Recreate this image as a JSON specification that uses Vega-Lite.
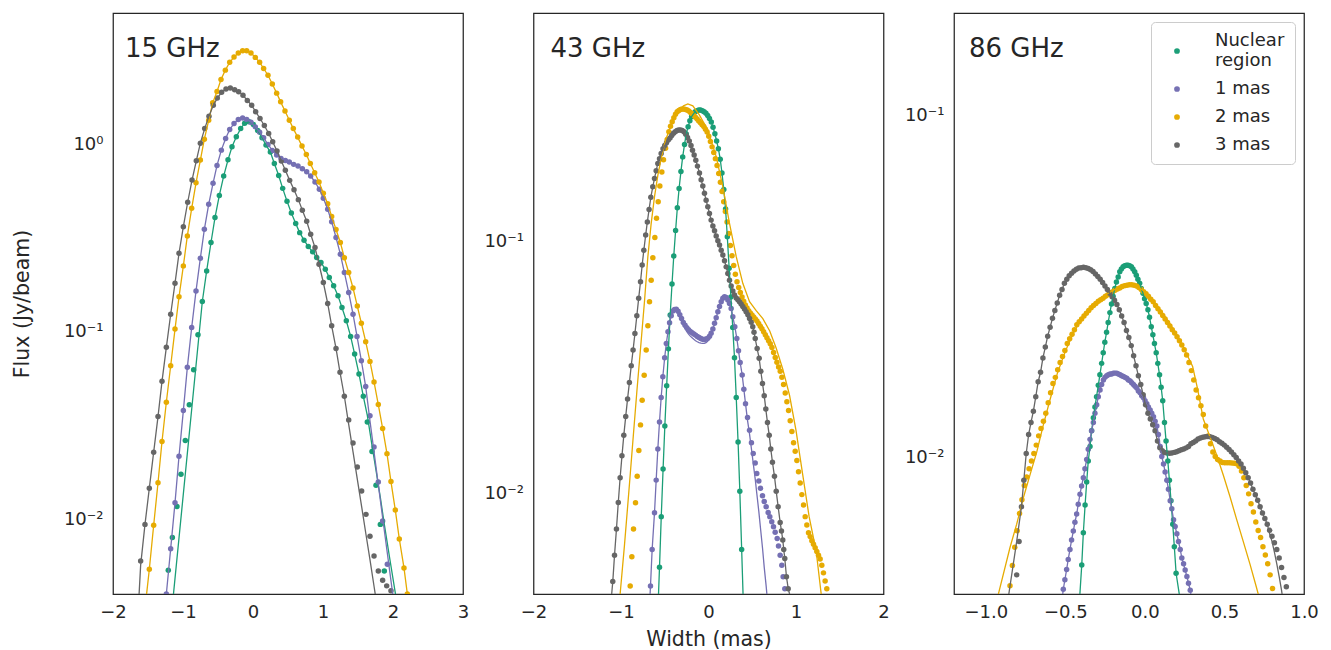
{
"$schema":"https://vega.github.io/schema/vega-lite/v6.json",
"background":"white",
"padding":{"left":11,"top":12,"right":5,"bottom":5},
"config":{"font":"DejaVu Sans","view":{"stroke":"#262626","strokeWidth":1.25},
"axis":{"grid":false,"ticks":false,"domain":false,"labelFontSize":18,"labelColor":"#262626","titleFontSize":20.5,"titleFontWeight":"normal","titleColor":"#262626","labelFlush":false},
"axisX":{"labelPadding":9,"titlePadding":8},
"axisY":{"labelPadding":10,"titlePadding":31}},
"spacing":70.5,
"bounds":"flush",
"resolve":{"scale":{"color":"shared","x":"independent","y":"independent"},"legend":{"color":"independent"}},
"datasets":{
"a":[
{"s":"N","x":-1.21,"y":0.00536},{"s":"N","x":-1.152,"y":0.008},{"s":"N","x":-1.142,"f":0.0038},{"s":"N","x":-1.086,"y":0.0117},{"s":"N","x":-1.029,"y":0.0174},{"s":"N","x":-0.967,"y":0.0263},{"s":"N","x":-0.91,"y":0.0408},{"s":"N","x":-0.848,"y":0.0628},{"s":"N","x":-0.786,"y":0.0964},
{"s":"N","x":-0.724,"y":0.145,"f":0.145},{"s":"N","x":-0.662,"y":0.211,"f":0.211},{"s":"N","x":-0.6,"y":0.299,"f":0.299},{"s":"N","x":-0.543,"y":0.406,"f":0.406},{"s":"N","x":-0.481,"y":0.533,"f":0.533},{"s":"N","x":-0.419,"y":0.676,"f":0.676},{"s":"N","x":-0.357,"y":0.825,"f":0.825},{"s":"N","x":-0.3,"y":0.968,"f":0.968},{"s":"N","x":-0.238,"y":1.094,"f":1.094},{"s":"N","x":-0.176,"y":1.21,"f":1.21},{"s":"N","x":-0.119,"y":1.293,"f":1.293},{"s":"N","x":-0.057,"y":1.315,"f":1.315},{"s":"N","x":0.005,"y":1.272,"f":1.272},{"s":"N","x":0.067,"y":1.182,"f":1.182},{"s":"N","x":0.129,"y":1.081,"f":1.081},{"s":"N","x":0.186,"y":0.988,"f":0.988},{"s":"N","x":0.248,"y":0.907,"f":0.907},{"s":"N","x":0.305,"y":0.789,"f":0.789},{"s":"N","x":0.367,"y":0.681,"f":0.681},{"s":"N","x":0.424,"y":0.581,"f":0.581},{"s":"N","x":0.486,"y":0.496,"f":0.496},{"s":"N","x":0.548,"y":0.43,"f":0.43},{"s":"N","x":0.61,"y":0.377,"f":0.377},{"s":"N","x":0.667,"y":0.3375,"f":0.3375},{"s":"N","x":0.729,"y":0.3076,"f":0.3076},{"s":"N","x":0.79,"y":0.2843,"f":0.2843},{"s":"N","x":0.852,"y":0.2665,"f":0.2665},{"s":"N","x":0.91,"y":0.2486,"f":0.2486},{"s":"N","x":0.971,"y":0.2338,"f":0.2338},{"s":"N","x":1.033,"y":0.2156,"f":0.2156},{"s":"N","x":1.09,"y":0.1945,"f":0.1945},{"s":"N","x":1.152,"y":0.1758,"f":0.1758},{"s":"N","x":1.214,"y":0.1554,"f":0.1554},{"s":"N","x":1.271,"y":0.1347,"f":0.1347},{"s":"N","x":1.333,"y":0.1145,"f":0.1145},{"s":"N","x":1.395,"y":0.0944,"f":0.0944},{"s":"N","x":1.452,"y":0.076,"f":0.076},{"s":"N","x":1.514,"y":0.0596,"f":0.0596},{"s":"N","x":1.576,"y":0.0453,"f":0.0453},{"s":"N","x":1.633,"y":0.033,"f":0.0358},{"s":"N","x":1.7,"y":0.023,"f":0.0248},{"s":"N","x":1.757,"y":0.0152,"f":0.0183},{"s":"N","x":1.819,"y":0.0094,"f":0.0131},{"s":"N","x":1.876,"y":0.0053,"f":0.0094},{"s":"N","x":1.95,"f":0.0063},{"s":"N","x":2.04,"f":0.0039},
{"s":"1","x":-1.26,"f":0.0035},{"s":"1","x":-1.238,"y":0.004,"f":0.004},{"s":"1","x":-1.176,"y":0.00698,"f":0.00698},{"s":"1","x":-1.114,"y":0.01227,"f":0.01227},{"s":"1","x":-1.057,"y":0.0217,"f":0.0217},{"s":"1","x":-0.995,"y":0.038,"f":0.038},{"s":"1","x":-0.938,"y":0.0646,"f":0.0646},{"s":"1","x":-0.876,"y":0.1054,"f":0.1054},{"s":"1","x":-0.814,"y":0.165,"f":0.165},{"s":"1","x":-0.752,"y":0.2466,"f":0.2466},{"s":"1","x":-0.695,"y":0.3515,"f":0.3515},{"s":"1","x":-0.633,"y":0.4776,"f":0.4776},{"s":"1","x":-0.571,"y":0.618,"f":0.618},{"s":"1","x":-0.514,"y":0.77,"f":0.77},{"s":"1","x":-0.452,"y":0.929,"f":0.929},{"s":"1","x":-0.391,"y":1.072,"f":1.072},{"s":"1","x":-0.333,"y":1.197,"f":1.197},{"s":"1","x":-0.271,"y":1.288,"f":1.288},{"s":"1","x":-0.21,"y":1.353,"f":1.353},{"s":"1","x":-0.148,"y":1.38,"f":1.38},{"s":"1","x":-0.09,"y":1.353,"f":1.353},{"s":"1","x":-0.029,"y":1.309,"f":1.309},{"s":"1","x":0.033,"y":1.236,"f":1.236},{"s":"1","x":0.095,"y":1.158,"f":1.158},{"s":"1","x":0.152,"y":1.081,"f":1.081},{"s":"1","x":0.214,"y":0.996,"f":0.996},{"s":"1","x":0.276,"y":0.926,"f":0.926},{"s":"1","x":0.338,"y":0.874,"f":0.874},{"s":"1","x":0.4,"y":0.839,"f":0.839},{"s":"1","x":0.462,"y":0.819,"f":0.819},{"s":"1","x":0.519,"y":0.802,"f":0.802},{"s":"1","x":0.581,"y":0.78,"f":0.78},{"s":"1","x":0.643,"y":0.764,"f":0.764},{"s":"1","x":0.705,"y":0.739,"f":0.739},{"s":"1","x":0.767,"y":0.713,"f":0.713},{"s":"1","x":0.824,"y":0.676,"f":0.676},{"s":"1","x":0.886,"y":0.628,"f":0.628},{"s":"1","x":0.948,"y":0.574,"f":0.574},{"s":"1","x":1.005,"y":0.514,"f":0.514},{"s":"1","x":1.067,"y":0.45,"f":0.45},{"s":"1","x":1.124,"y":0.386,"f":0.386},{"s":"1","x":1.186,"y":0.318,"f":0.318},{"s":"1","x":1.248,"y":0.259,"f":0.259},{"s":"1","x":1.305,"y":0.207,"f":0.207},{"s":"1","x":1.367,"y":0.162,"f":0.162},{"s":"1","x":1.429,"y":0.124,"f":0.124},{"s":"1","x":1.486,"y":0.0944,"f":0.0944},{"s":"1","x":1.548,"y":0.0701,"f":0.0701},{"s":"1","x":1.61,"y":0.051,"f":0.051},{"s":"1","x":1.671,"y":0.0357,"f":0.0335},{"s":"1","x":1.729,"y":0.0243,"f":0.0229},{"s":"1","x":1.79,"y":0.0158,"f":0.0153},{"s":"1","x":1.852,"y":0.0098,"f":0.0102},{"s":"1","x":1.919,"y":0.00577,"f":0.0066},{"s":"1","x":2.0,"f":0.0039},
{"s":"2","x":-1.53,"f":0.0037},{"s":"2","x":-1.481,"y":0.00542,"f":0.00542},{"s":"2","x":-1.419,"y":0.0093,"f":0.0093},{"s":"2","x":-1.357,"y":0.01567,"f":0.01567},{"s":"2","x":-1.3,"y":0.026,"f":0.026},{"s":"2","x":-1.238,"y":0.0421,"f":0.0421},{"s":"2","x":-1.176,"y":0.0659,"f":0.0659},{"s":"2","x":-1.114,"y":0.1033,"f":0.1033},{"s":"2","x":-1.057,"y":0.1535,"f":0.1535},{"s":"2","x":-0.995,"y":0.2244,"f":0.2244},{"s":"2","x":-0.938,"y":0.324,"f":0.324},{"s":"2","x":-0.876,"y":0.455,"f":0.455},{"s":"2","x":-0.814,"y":0.622,"f":0.622},{"s":"2","x":-0.752,"y":0.822,"f":0.822},{"s":"2","x":-0.695,"y":1.063,"f":1.063},{"s":"2","x":-0.633,"y":1.34,"f":1.34},{"s":"2","x":-0.576,"y":1.66,"f":1.66},{"s":"2","x":-0.514,"y":1.91,"f":1.91},{"s":"2","x":-0.457,"y":2.21,"f":2.21},{"s":"2","x":-0.395,"y":2.48,"f":2.48},{"s":"2","x":-0.333,"y":2.73,"f":2.73},{"s":"2","x":-0.271,"y":2.91,"f":2.91},{"s":"2","x":-0.21,"y":3.06,"f":3.06},{"s":"2","x":-0.148,"y":3.15,"f":3.15},{"s":"2","x":-0.09,"y":3.15,"f":3.15},{"s":"2","x":-0.029,"y":3.06,"f":3.06},{"s":"2","x":0.033,"y":2.9,"f":2.9},{"s":"2","x":0.095,"y":2.73,"f":2.73},{"s":"2","x":0.152,"y":2.53,"f":2.53},{"s":"2","x":0.214,"y":2.33,"f":2.33},{"s":"2","x":0.276,"y":2.09,"f":2.09},{"s":"2","x":0.338,"y":1.87,"f":1.87},{"s":"2","x":0.395,"y":1.68,"f":1.68},{"s":"2","x":0.457,"y":1.5,"f":1.5},{"s":"2","x":0.519,"y":1.34,"f":1.34},{"s":"2","x":0.576,"y":1.21,"f":1.21},{"s":"2","x":0.638,"y":1.09,"f":1.09},{"s":"2","x":0.7,"y":0.976,"f":0.976},{"s":"2","x":0.762,"y":0.881,"f":0.881},{"s":"2","x":0.819,"y":0.789,"f":0.789},{"s":"2","x":0.881,"y":0.703,"f":0.703},{"s":"2","x":0.943,"y":0.628,"f":0.628},{"s":"2","x":1.005,"y":0.547,"f":0.547},{"s":"2","x":1.067,"y":0.481,"f":0.481},{"s":"2","x":1.124,"y":0.412,"f":0.412},{"s":"2","x":1.186,"y":0.351,"f":0.351},{"s":"2","x":1.248,"y":0.299,"f":0.299},{"s":"2","x":1.305,"y":0.248,"f":0.248},{"s":"2","x":1.367,"y":0.207,"f":0.207},{"s":"2","x":1.429,"y":0.171,"f":0.171},{"s":"2","x":1.49,"y":0.137,"f":0.137},{"s":"2","x":1.548,"y":0.111,"f":0.111},{"s":"2","x":1.61,"y":0.0885,"f":0.0885},{"s":"2","x":1.671,"y":0.0695,"f":0.0695},{"s":"2","x":1.729,"y":0.054,"f":0.054},{"s":"2","x":1.79,"y":0.0409,"f":0.0409},{"s":"2","x":1.852,"y":0.0305,"f":0.0305},{"s":"2","x":1.914,"y":0.0224,"f":0.0224},{"s":"2","x":1.971,"y":0.0159,"f":0.0159},{"s":"2","x":2.033,"y":0.0112,"f":0.0112},{"s":"2","x":2.09,"y":0.00786,"f":0.00786},{"s":"2","x":2.157,"y":0.00551,"f":0.00551},{"s":"2","x":2.205,"y":0.004,"f":0.004},{"s":"2","x":2.23,"f":0.0034},
{"s":"3","x":-1.632,"f":0.0037},{"s":"3","x":-1.605,"y":0.006,"f":0.0057},{"s":"3","x":-1.543,"y":0.0094,"f":0.0094},{"s":"3","x":-1.481,"y":0.01466,"f":0.01466},{"s":"3","x":-1.419,"y":0.0228,"f":0.0228},{"s":"3","x":-1.357,"y":0.0353,"f":0.0353},{"s":"3","x":-1.3,"y":0.0544,"f":0.0544},{"s":"3","x":-1.238,"y":0.0826,"f":0.0826},{"s":"3","x":-1.176,"y":0.124,"f":0.124},{"s":"3","x":-1.114,"y":0.1815,"f":0.1815},{"s":"3","x":-1.057,"y":0.262,"f":0.262},{"s":"3","x":-0.995,"y":0.363,"f":0.363},{"s":"3","x":-0.933,"y":0.49,"f":0.49},{"s":"3","x":-0.871,"y":0.643,"f":0.643},{"s":"3","x":-0.81,"y":0.815,"f":0.815},{"s":"3","x":-0.752,"y":1.012,"f":1.012},{"s":"3","x":-0.69,"y":1.21,"f":1.21},{"s":"3","x":-0.629,"y":1.41,"f":1.41},{"s":"3","x":-0.567,"y":1.61,"f":1.61},{"s":"3","x":-0.51,"y":1.76,"f":1.76},{"s":"3","x":-0.448,"y":1.89,"f":1.89},{"s":"3","x":-0.386,"y":1.97,"f":1.97},{"s":"3","x":-0.324,"y":1.99,"f":1.99},{"s":"3","x":-0.262,"y":1.95,"f":1.95},{"s":"3","x":-0.205,"y":1.9,"f":1.9},{"s":"3","x":-0.143,"y":1.82,"f":1.82},{"s":"3","x":-0.081,"y":1.71,"f":1.71},{"s":"3","x":-0.019,"y":1.61,"f":1.61},{"s":"3","x":0.038,"y":1.49,"f":1.49},{"s":"3","x":0.1,"y":1.37,"f":1.37},{"s":"3","x":0.162,"y":1.257,"f":1.257},{"s":"3","x":0.224,"y":1.14,"f":1.14},{"s":"3","x":0.281,"y":1.03,"f":1.03},{"s":"3","x":0.343,"y":0.918,"f":0.918},{"s":"3","x":0.405,"y":0.812,"f":0.812},{"s":"3","x":0.462,"y":0.725,"f":0.725},{"s":"3","x":0.524,"y":0.641,"f":0.641},{"s":"3","x":0.586,"y":0.572,"f":0.572},{"s":"3","x":0.648,"y":0.506,"f":0.506},{"s":"3","x":0.705,"y":0.444,"f":0.444},{"s":"3","x":0.767,"y":0.388,"f":0.388},{"s":"3","x":0.824,"y":0.331,"f":0.331},{"s":"3","x":0.886,"y":0.281,"f":0.281},{"s":"3","x":0.943,"y":0.229,"f":0.229},{"s":"3","x":1.005,"y":0.183,"f":0.183},{"s":"3","x":1.067,"y":0.1415,"f":0.1415},{"s":"3","x":1.124,"y":0.1076,"f":0.1076},{"s":"3","x":1.186,"y":0.0815,"f":0.0815},{"s":"3","x":1.243,"y":0.0608,"f":0.0608},{"s":"3","x":1.305,"y":0.0453,"f":0.0453},{"s":"3","x":1.367,"y":0.0339,"f":0.0321},{"s":"3","x":1.429,"y":0.0255,"f":0.0229},{"s":"3","x":1.49,"y":0.019,"f":0.0164},{"s":"3","x":1.552,"y":0.01415,"f":0.0117},{"s":"3","x":1.614,"y":0.01063,"f":0.0083},{"s":"3","x":1.671,"y":0.00813,"f":0.0061},{"s":"3","x":1.729,"y":0.00638,"f":0.0044},{"s":"3","x":1.76,"f":0.0037},{"s":"3","x":1.79,"y":0.00531},{"s":"3","x":1.852,"y":0.00474},{"s":"3","x":1.91,"y":0.00442},{"s":"3","x":1.971,"y":0.00416}
],
"b":[
{"s":"N","x":-0.58,"f":0.0033},{"s":"N","x":-0.56,"y":0.0051,"f":0.0051},{"s":"N","x":-0.54,"y":0.0081,"f":0.0081},{"s":"N","x":-0.519,"y":0.0125,"f":0.0125},{"s":"N","x":-0.499,"y":0.0185,"f":0.0185},{"s":"N","x":-0.478,"y":0.0267,"f":0.0267},{"s":"N","x":-0.458,"y":0.0374,"f":0.0374},{"s":"N","x":-0.438,"y":0.0509,"f":0.0509},{"s":"N","x":-0.417,"y":0.0676,"f":0.0676},{"s":"N","x":-0.397,"y":0.0872,"f":0.0872},{"s":"N","x":-0.376,"y":0.11,"f":0.11},{"s":"N","x":-0.356,"y":0.1355,"f":0.1355},{"s":"N","x":-0.336,"y":0.1616,"f":0.1616},{"s":"N","x":-0.315,"y":0.1887,"f":0.1887},{"s":"N","x":-0.295,"y":0.2154,"f":0.2154},{"s":"N","x":-0.274,"y":0.2414,"f":0.2414},{"s":"N","x":-0.254,"y":0.2655,"f":0.2655},{"s":"N","x":-0.233,"y":0.2838,"f":0.2838},{"s":"N","x":-0.213,"y":0.2994,"f":0.2994},{"s":"N","x":-0.193,"y":0.311,"f":0.311},{"s":"N","x":-0.172,"y":0.319,"f":0.319},{"s":"N","x":-0.152,"y":0.325,"f":0.325},{"s":"N","x":-0.131,"y":0.328,"f":0.328},{"s":"N","x":-0.111,"y":0.33,"f":0.33},{"s":"N","x":-0.091,"y":0.33,"f":0.33},{"s":"N","x":-0.07,"y":0.328,"f":0.328},{"s":"N","x":-0.05,"y":0.325,"f":0.325},{"s":"N","x":-0.029,"y":0.321,"f":0.321},{"s":"N","x":-0.009,"y":0.314,"f":0.314},{"s":"N","x":0.011,"y":0.306,"f":0.306},{"s":"N","x":0.032,"y":0.296,"f":0.296},{"s":"N","x":0.052,"y":0.282,"f":0.282},{"s":"N","x":0.073,"y":0.266,"f":0.266},{"s":"N","x":0.093,"y":0.249,"f":0.249},{"s":"N","x":0.113,"y":0.232,"f":0.232},{"s":"N","x":0.134,"y":0.211,"f":0.211},{"s":"N","x":0.154,"y":0.186,"f":0.186},{"s":"N","x":0.175,"y":0.16,"f":0.16},{"s":"N","x":0.195,"y":0.134,"f":0.134},{"s":"N","x":0.215,"y":0.104,"f":0.104},{"s":"N","x":0.236,"y":0.078,"f":0.078},{"s":"N","x":0.256,"y":0.06,"f":0.06},{"s":"N","x":0.277,"y":0.0455,"f":0.0455},{"s":"N","x":0.297,"y":0.0345,"f":0.0345},{"s":"N","x":0.317,"y":0.024,"f":0.024},{"s":"N","x":0.338,"y":0.016,"f":0.016},{"s":"N","x":0.358,"y":0.0102,"f":0.0102},{"s":"N","x":0.379,"y":0.006,"f":0.006},{"s":"N","x":0.4,"f":0.0035},
{"s":"1","x":-0.68,"f":0.0033},{"s":"1","x":-0.663,"y":0.0043,"f":0.0043},{"s":"1","x":-0.644,"y":0.006,"f":0.006},{"s":"1","x":-0.617,"y":0.0084,"f":0.0084},{"s":"1","x":-0.598,"y":0.0113,"f":0.0113},{"s":"1","x":-0.579,"y":0.015,"f":0.015},{"s":"1","x":-0.56,"y":0.0192,"f":0.0192},{"s":"1","x":-0.541,"y":0.024,"f":0.024},{"s":"1","x":-0.522,"y":0.029,"f":0.029},{"s":"1","x":-0.501,"y":0.0345,"f":0.0345},{"s":"1","x":-0.482,"y":0.0393,"f":0.0393},{"s":"1","x":-0.463,"y":0.0437,"f":0.0437},{"s":"1","x":-0.445,"y":0.0475,"f":0.0475},{"s":"1","x":-0.426,"y":0.0506,"f":0.0506},{"s":"1","x":-0.407,"y":0.0528,"f":0.0528},{"s":"1","x":-0.388,"y":0.0536,"f":0.0536},{"s":"1","x":-0.368,"y":0.0537,"f":0.0535},{"s":"1","x":-0.348,"y":0.0527,"f":0.0522},{"s":"1","x":-0.328,"y":0.0511,"f":0.0505},{"s":"1","x":-0.308,"y":0.0493,"f":0.0485},{"s":"1","x":-0.288,"y":0.0476,"f":0.0466},{"s":"1","x":-0.268,"y":0.0464,"f":0.045},{"s":"1","x":-0.248,"y":0.0454,"f":0.0438},{"s":"1","x":-0.228,"y":0.0445,"f":0.0428},{"s":"1","x":-0.208,"y":0.0438,"f":0.042},{"s":"1","x":-0.188,"y":0.0433,"f":0.0414},{"s":"1","x":-0.168,"y":0.0428,"f":0.0408},{"s":"1","x":-0.148,"y":0.0424,"f":0.0403},{"s":"1","x":-0.128,"y":0.0419,"f":0.0399},{"s":"1","x":-0.108,"y":0.0415,"f":0.0396},{"s":"1","x":-0.088,"y":0.0411,"f":0.0394},{"s":"1","x":-0.068,"y":0.0408,"f":0.0393},{"s":"1","x":-0.048,"y":0.0407,"f":0.0393},{"s":"1","x":-0.028,"y":0.0409,"f":0.0396},{"s":"1","x":-0.008,"y":0.0412,"f":0.0402},{"s":"1","x":0.012,"y":0.042,"f":0.0412},{"s":"1","x":0.03,"y":0.0431,"f":0.0425},{"s":"1","x":0.05,"y":0.0448,"f":0.0446},{"s":"1","x":0.069,"y":0.0472,"f":0.0472},{"s":"1","x":0.088,"y":0.0497,"f":0.0497},{"s":"1","x":0.107,"y":0.0525,"f":0.0525},{"s":"1","x":0.126,"y":0.055,"f":0.055},{"s":"1","x":0.145,"y":0.0575,"f":0.0575},{"s":"1","x":0.164,"y":0.0593,"f":0.0593},{"s":"1","x":0.183,"y":0.0602,"f":0.0602},{"s":"1","x":0.202,"y":0.0598,"f":0.0598},{"s":"1","x":0.221,"y":0.0584,"f":0.0584},{"s":"1","x":0.24,"y":0.0566,"f":0.0566},{"s":"1","x":0.259,"y":0.0541,"f":0.0541},{"s":"1","x":0.278,"y":0.0501,"f":0.0501},{"s":"1","x":0.301,"y":0.0458,"f":0.0458},{"s":"1","x":0.324,"y":0.0411,"f":0.0411},{"s":"1","x":0.343,"y":0.0368,"f":0.0368},{"s":"1","x":0.362,"y":0.033,"f":0.033},{"s":"1","x":0.385,"y":0.0295,"f":0.0295},{"s":"1","x":0.404,"y":0.0259,"f":0.0259},{"s":"1","x":0.423,"y":0.0227,"f":0.0227},{"s":"1","x":0.446,"y":0.02,"f":0.0195},{"s":"1","x":0.469,"y":0.0178,"f":0.0172},{"s":"1","x":0.491,"y":0.0159,"f":0.015},{"s":"1","x":0.511,"y":0.0144,"f":0.0132},{"s":"1","x":0.534,"y":0.0132,"f":0.0114},{"s":"1","x":0.552,"y":0.012,"f":0.01},{"s":"1","x":0.575,"y":0.0112,"f":0.0085},{"s":"1","x":0.594,"y":0.0105,"f":0.0073},{"s":"1","x":0.617,"y":0.0098,"f":0.0061},{"s":"1","x":0.637,"y":0.0093,"f":0.0051},{"s":"1","x":0.659,"y":0.00887,"f":0.0043},{"s":"1","x":0.682,"y":0.00842,"f":0.0035},{"s":"1","x":0.701,"y":0.0081},{"s":"1","x":0.723,"y":0.00773},{"s":"1","x":0.743,"y":0.00739},{"s":"1","x":0.762,"y":0.00702},{"s":"1","x":0.785,"y":0.00664},{"s":"1","x":0.8,"y":0.0062},{"s":"1","x":0.819,"y":0.0057},{"s":"1","x":0.838,"y":0.0052},{"s":"1","x":0.853,"y":0.00468},{"s":"1","x":0.872,"y":0.0042},
{"s":"2","x":-0.895,"y":0.0043},{"s":"2","x":-0.876,"y":0.00562},{"s":"2","x":-0.857,"y":0.00723},{"s":"2","x":-0.834,"y":0.0092},{"s":"2","x":-0.815,"y":0.0117},{"s":"2","x":-0.796,"y":0.0148},{"s":"2","x":-0.777,"y":0.0187},{"s":"2","x":-0.758,"y":0.0234},{"s":"2","x":-0.735,"y":0.0294},{"s":"2","x":-0.712,"y":0.037},{"s":"2","x":-0.693,"y":0.0462},{"s":"2","x":-0.674,"y":0.0575},{"s":"2","x":-0.655,"y":0.07},{"s":"2","x":-0.636,"y":0.0859},{"s":"2","x":-0.613,"y":0.1033},{"s":"2","x":-0.594,"y":0.123},{"s":"2","x":-0.575,"y":0.143},{"s":"2","x":-0.556,"y":0.165},{"s":"2","x":-0.533,"y":0.1876},{"s":"2","x":-0.514,"y":0.21},{"s":"2","x":-0.491,"y":0.233},{"s":"2","x":-0.472,"y":0.2525},{"s":"2","x":-0.453,"y":0.271},{"s":"2","x":-0.434,"y":0.285},{"s":"2","x":-0.415,"y":0.297},{"s":"2","x":-0.396,"y":0.308},{"s":"2","x":-0.377,"y":0.318},{"s":"2","x":-0.358,"y":0.325},{"s":"2","x":-0.339,"y":0.329},{"s":"2","x":-0.32,"y":0.332},{"s":"2","x":-0.301,"y":0.333},{"s":"2","x":-0.282,"y":0.333},{"s":"2","x":-0.263,"y":0.332},{"s":"2","x":-0.244,"y":0.33},{"s":"2","x":-0.225,"y":0.327},{"s":"2","x":-0.206,"y":0.323},{"s":"2","x":-0.187,"y":0.319},{"s":"2","x":-0.168,"y":0.314},{"s":"2","x":-0.149,"y":0.309},{"s":"2","x":-0.13,"y":0.304},{"s":"2","x":-0.111,"y":0.299},{"s":"2","x":-0.092,"y":0.294},{"s":"2","x":-0.073,"y":0.289},{"s":"2","x":-0.054,"y":0.284},{"s":"2","x":-0.035,"y":0.277},{"s":"2","x":-0.016,"y":0.27},{"s":"2","x":0.003,"y":0.26},{"s":"2","x":0.022,"y":0.248},{"s":"2","x":0.041,"y":0.236},{"s":"2","x":0.06,"y":0.224},{"s":"2","x":0.079,"y":0.212},{"s":"2","x":0.098,"y":0.199},{"s":"2","x":0.117,"y":0.185},{"s":"2","x":0.136,"y":0.171},{"s":"2","x":0.155,"y":0.157},{"s":"2","x":0.174,"y":0.143},{"s":"2","x":0.193,"y":0.131},{"s":"2","x":0.212,"y":0.119},{"s":"2","x":0.231,"y":0.107},{"s":"2","x":0.25,"y":0.096},{"s":"2","x":0.269,"y":0.0875},{"s":"2","x":0.288,"y":0.08},{"s":"2","x":0.307,"y":0.0738},{"s":"2","x":0.326,"y":0.069},{"s":"2","x":0.345,"y":0.0655},{"s":"2","x":0.364,"y":0.0625},{"s":"2","x":0.383,"y":0.06},{"s":"2","x":0.402,"y":0.0578},{"s":"2","x":0.421,"y":0.0558},{"s":"2","x":0.44,"y":0.0543},{"s":"2","x":0.459,"y":0.053},{"s":"2","x":0.478,"y":0.0519},{"s":"2","x":0.497,"y":0.0509},{"s":"2","x":0.516,"y":0.05},{"s":"2","x":0.535,"y":0.0491},{"s":"2","x":0.554,"y":0.0482},{"s":"2","x":0.573,"y":0.0471},{"s":"2","x":0.592,"y":0.046},{"s":"2","x":0.611,"y":0.0449},{"s":"2","x":0.63,"y":0.0437},{"s":"2","x":0.649,"y":0.0425},{"s":"2","x":0.668,"y":0.0414},{"s":"2","x":0.687,"y":0.0403},{"s":"2","x":0.706,"y":0.0392},{"s":"2","x":0.725,"y":0.0379},{"s":"2","x":0.744,"y":0.0362},{"s":"2","x":0.763,"y":0.0346},{"s":"2","x":0.782,"y":0.0331},{"s":"2","x":0.801,"y":0.0317},{"s":"2","x":0.82,"y":0.0305},{"s":"2","x":0.839,"y":0.0289},{"s":"2","x":0.858,"y":0.027},{"s":"2","x":0.877,"y":0.025},{"s":"2","x":0.896,"y":0.0231},{"s":"2","x":0.915,"y":0.0213},{"s":"2","x":0.934,"y":0.0194},{"s":"2","x":0.953,"y":0.0176},{"s":"2","x":0.972,"y":0.0159},{"s":"2","x":0.991,"y":0.0147},{"s":"2","x":1.01,"y":0.0135},{"s":"2","x":1.029,"y":0.0122},{"s":"2","x":1.048,"y":0.011},{"s":"2","x":1.067,"y":0.0099},{"s":"2","x":1.086,"y":0.009},{"s":"2","x":1.105,"y":0.0081},{"s":"2","x":1.124,"y":0.0075},{"s":"2","x":1.143,"y":0.007},{"s":"2","x":1.162,"y":0.00675},{"s":"2","x":1.181,"y":0.0065},{"s":"2","x":1.2,"y":0.0063},{"s":"2","x":1.219,"y":0.0061},{"s":"2","x":1.238,"y":0.0059},{"s":"2","x":1.257,"y":0.0057},{"s":"2","x":1.276,"y":0.0055},{"s":"2","x":1.295,"y":0.0052},{"s":"2","x":1.314,"y":0.00485},{"s":"2","x":1.333,"y":0.0045},{"s":"2","x":1.352,"y":0.0042},
{"s":"2","x":-1.03,"f":0.0035},{"s":"2","x":-1.01,"f":0.004},{"s":"2","x":-0.96,"f":0.00626},{"s":"2","x":-0.91,"f":0.0102},{"s":"2","x":-0.865,"f":0.016},{"s":"2","x":-0.819,"f":0.0253},{"s":"2","x":-0.77,"f":0.04},{"s":"2","x":-0.731,"f":0.058},{"s":"2","x":-0.693,"f":0.0867},{"s":"2","x":-0.655,"f":0.1175},{"s":"2","x":-0.617,"f":0.15},{"s":"2","x":-0.579,"f":0.182},{"s":"2","x":-0.541,"f":0.212},{"s":"2","x":-0.491,"f":0.251},{"s":"2","x":-0.427,"f":0.288},{"s":"2","x":-0.351,"f":0.325},{"s":"2","x":-0.286,"f":0.343},{"s":"2","x":-0.236,"f":0.349},{"s":"2","x":-0.179,"f":0.343},{"s":"2","x":-0.103,"f":0.315},{"s":"2","x":-0.008,"f":0.275},{"s":"2","x":0.088,"f":0.216},{"s":"2","x":0.164,"f":0.164},{"s":"2","x":0.24,"f":0.1175},{"s":"2","x":0.317,"f":0.0867},{"s":"2","x":0.392,"f":0.068},{"s":"2","x":0.469,"f":0.0575},{"s":"2","x":0.545,"f":0.053},{"s":"2","x":0.621,"f":0.0493},{"s":"2","x":0.7,"f":0.044},{"s":"2","x":0.774,"f":0.0376},{"s":"2","x":0.85,"f":0.031},{"s":"2","x":0.926,"f":0.0245},{"s":"2","x":1.0,"f":0.0178},{"s":"2","x":1.078,"f":0.0118},{"s":"2","x":1.15,"f":0.0081},{"s":"2","x":1.231,"f":0.0059},{"s":"2","x":1.288,"f":0.004},{"s":"2","x":1.31,"f":0.0035},
{"s":"3","x":-1.115,"f":0.0037},{"s":"3","x":-1.094,"y":0.00448,"f":0.00448},{"s":"3","x":-1.074,"y":0.0057,"f":0.0057},{"s":"3","x":-1.052,"y":0.00723,"f":0.00723},{"s":"3","x":-1.031,"y":0.00922,"f":0.00922},{"s":"3","x":-1.01,"y":0.01155,"f":0.01155},{"s":"3","x":-0.989,"y":0.0141,"f":0.0141},{"s":"3","x":-0.968,"y":0.017,"f":0.017},{"s":"3","x":-0.946,"y":0.0202,"f":0.0202},{"s":"3","x":-0.925,"y":0.0237,"f":0.0237},{"s":"3","x":-0.904,"y":0.0275,"f":0.0275},{"s":"3","x":-0.883,"y":0.0321,"f":0.0321},{"s":"3","x":-0.862,"y":0.037,"f":0.037},{"s":"3","x":-0.841,"y":0.043,"f":0.043},{"s":"3","x":-0.819,"y":0.0506,"f":0.0506},{"s":"3","x":-0.798,"y":0.0593,"f":0.0593},{"s":"3","x":-0.777,"y":0.069,"f":0.069},{"s":"3","x":-0.758,"y":0.0804,"f":0.0804},{"s":"3","x":-0.739,"y":0.092,"f":0.092},{"s":"3","x":-0.718,"y":0.1056,"f":0.1056},{"s":"3","x":-0.699,"y":0.119,"f":0.119},{"s":"3","x":-0.679,"y":0.1334,"f":0.1334},{"s":"3","x":-0.659,"y":0.149,"f":0.149},{"s":"3","x":-0.637,"y":0.164,"f":0.164},{"s":"3","x":-0.617,"y":0.177,"f":0.177},{"s":"3","x":-0.598,"y":0.19,"f":0.19},{"s":"3","x":-0.579,"y":0.203,"f":0.203},{"s":"3","x":-0.56,"y":0.212,"f":0.212},{"s":"3","x":-0.541,"y":0.222,"f":0.222},{"s":"3","x":-0.52,"y":0.232,"f":0.232},{"s":"3","x":-0.5,"y":0.239,"f":0.239},{"s":"3","x":-0.48,"y":0.245,"f":0.245},{"s":"3","x":-0.46,"y":0.251,"f":0.251},{"s":"3","x":-0.44,"y":0.256,"f":0.256},{"s":"3","x":-0.42,"y":0.262,"f":0.262},{"s":"3","x":-0.4,"y":0.267,"f":0.267},{"s":"3","x":-0.38,"y":0.271,"f":0.271},{"s":"3","x":-0.36,"y":0.274,"f":0.274},{"s":"3","x":-0.34,"y":0.275,"f":0.275},{"s":"3","x":-0.32,"y":0.275,"f":0.275},{"s":"3","x":-0.3,"y":0.274,"f":0.274},{"s":"3","x":-0.28,"y":0.271,"f":0.271},{"s":"3","x":-0.26,"y":0.265,"f":0.265},{"s":"3","x":-0.24,"y":0.257,"f":0.257},{"s":"3","x":-0.22,"y":0.249,"f":0.249},{"s":"3","x":-0.2,"y":0.239,"f":0.239},{"s":"3","x":-0.183,"y":0.229,"f":0.229},{"s":"3","x":-0.164,"y":0.219,"f":0.219},{"s":"3","x":-0.145,"y":0.209,"f":0.209},{"s":"3","x":-0.126,"y":0.198,"f":0.198},{"s":"3","x":-0.103,"y":0.186,"f":0.186},{"s":"3","x":-0.084,"y":0.175,"f":0.175},{"s":"3","x":-0.065,"y":0.165,"f":0.165},{"s":"3","x":-0.046,"y":0.1545,"f":0.1545},{"s":"3","x":-0.027,"y":0.145,"f":0.145},{"s":"3","x":-0.008,"y":0.1367,"f":0.1367},{"s":"3","x":0.011,"y":0.1286,"f":0.1286},{"s":"3","x":0.03,"y":0.121,"f":0.121},{"s":"3","x":0.05,"y":0.1146,"f":0.1146},{"s":"3","x":0.069,"y":0.1099,"f":0.1099},{"s":"3","x":0.088,"y":0.1047,"f":0.1047},{"s":"3","x":0.107,"y":0.1003,"f":0.1003},{"s":"3","x":0.126,"y":0.0964,"f":0.0964},{"s":"3","x":0.145,"y":0.092,"f":0.092},{"s":"3","x":0.164,"y":0.088,"f":0.088},{"s":"3","x":0.183,"y":0.0836,"f":0.0836},{"s":"3","x":0.202,"y":0.079,"f":0.079},{"s":"3","x":0.221,"y":0.0744,"f":0.0744},{"s":"3","x":0.24,"y":0.07,"f":0.07},{"s":"3","x":0.259,"y":0.0663,"f":0.0663},{"s":"3","x":0.278,"y":0.0634,"f":0.0634},{"s":"3","x":0.297,"y":0.0611,"f":0.0611},{"s":"3","x":0.317,"y":0.0595,"f":0.0595},{"s":"3","x":0.336,"y":0.0585,"f":0.0585},{"s":"3","x":0.354,"y":0.0575,"f":0.0575},{"s":"3","x":0.373,"y":0.0563,"f":0.0563},{"s":"3","x":0.392,"y":0.055,"f":0.055},{"s":"3","x":0.411,"y":0.0538,"f":0.0538},{"s":"3","x":0.43,"y":0.0525,"f":0.0525},{"s":"3","x":0.45,"y":0.051,"f":0.051},{"s":"3","x":0.469,"y":0.0493,"f":0.0493},{"s":"3","x":0.488,"y":0.0477,"f":0.0477},{"s":"3","x":0.506,"y":0.0458,"f":0.0458},{"s":"3","x":0.52,"y":0.0435,"f":0.0435},{"s":"3","x":0.534,"y":0.0411,"f":0.0411},{"s":"3","x":0.556,"y":0.0375,"f":0.0375},{"s":"3","x":0.579,"y":0.0343,"f":0.0343},{"s":"3","x":0.598,"y":0.0305,"f":0.0305},{"s":"3","x":0.617,"y":0.0273,"f":0.0273},{"s":"3","x":0.637,"y":0.0244,"f":0.0244},{"s":"3","x":0.655,"y":0.0216,"f":0.0216},{"s":"3","x":0.674,"y":0.0191,"f":0.0191},{"s":"3","x":0.694,"y":0.017,"f":0.017},{"s":"3","x":0.712,"y":0.015,"f":0.015},{"s":"3","x":0.731,"y":0.0133,"f":0.0133},{"s":"3","x":0.754,"y":0.0117,"f":0.0117},{"s":"3","x":0.774,"y":0.0102,"f":0.0102},{"s":"3","x":0.796,"y":0.00887,"f":0.00887},{"s":"3","x":0.819,"y":0.00768,"f":0.00768},{"s":"3","x":0.834,"y":0.0071,"f":0.0071},{"s":"3","x":0.849,"y":0.00655,"f":0.00655},{"s":"3","x":0.86,"y":0.006,"f":0.006},{"s":"3","x":0.872,"y":0.00553,"f":0.00553},{"s":"3","x":0.891,"y":0.00468,"f":0.00468},{"s":"3","x":0.911,"y":0.0042,"f":0.0042},{"s":"3","x":0.96,"f":0.0036}
],
"c":[
{"s":"N","x":-0.415,"f":0.0036},{"s":"N","x":-0.397,"y":0.00486,"f":0.00486},{"s":"N","x":-0.387,"y":0.00604,"f":0.00604},{"s":"N","x":-0.376,"y":0.00728,"f":0.00728},{"s":"N","x":-0.366,"y":0.0085,"f":0.0085},{"s":"N","x":-0.356,"y":0.0098,"f":0.0098},{"s":"N","x":-0.345,"y":0.0108,"f":0.0108},{"s":"N","x":-0.335,"y":0.012,"f":0.012},{"s":"N","x":-0.324,"y":0.0131,"f":0.0131},{"s":"N","x":-0.314,"y":0.0141,"f":0.0141},{"s":"N","x":-0.304,"y":0.0151,"f":0.0151},{"s":"N","x":-0.293,"y":0.0163,"f":0.0163},{"s":"N","x":-0.283,"y":0.0175,"f":0.0175},{"s":"N","x":-0.272,"y":0.0189,"f":0.0189},{"s":"N","x":-0.262,"y":0.0203,"f":0.0203},{"s":"N","x":-0.252,"y":0.0218,"f":0.0218},{"s":"N","x":-0.241,"y":0.0233,"f":0.0233},{"s":"N","x":-0.231,"y":0.0249,"f":0.0249},{"s":"N","x":-0.22,"y":0.0266,"f":0.0266},{"s":"N","x":-0.21,"y":0.0282,"f":0.0282},{"s":"N","x":-0.2,"y":0.0297,"f":0.0297},{"s":"N","x":-0.189,"y":0.0313,"f":0.0313},{"s":"N","x":-0.179,"y":0.0327,"f":0.0327},{"s":"N","x":-0.168,"y":0.0338,"f":0.0338},{"s":"N","x":-0.158,"y":0.035,"f":0.035},{"s":"N","x":-0.148,"y":0.0357,"f":0.0357},{"s":"N","x":-0.137,"y":0.0362,"f":0.0362},{"s":"N","x":-0.127,"y":0.0365,"f":0.0365},{"s":"N","x":-0.116,"y":0.0366,"f":0.0366},{"s":"N","x":-0.106,"y":0.0366,"f":0.0366},{"s":"N","x":-0.096,"y":0.0365,"f":0.0365},{"s":"N","x":-0.085,"y":0.0362,"f":0.0362},{"s":"N","x":-0.075,"y":0.0357,"f":0.0357},{"s":"N","x":-0.064,"y":0.035,"f":0.035},{"s":"N","x":-0.054,"y":0.0342,"f":0.0342},{"s":"N","x":-0.044,"y":0.0333,"f":0.0333},{"s":"N","x":-0.033,"y":0.0324,"f":0.0324},{"s":"N","x":-0.023,"y":0.0313,"f":0.0313},{"s":"N","x":-0.012,"y":0.0303,"f":0.0303},{"s":"N","x":-0.002,"y":0.0292,"f":0.0292},{"s":"N","x":0.008,"y":0.0283,"f":0.0283},{"s":"N","x":0.019,"y":0.0271,"f":0.0271},{"s":"N","x":0.029,"y":0.0258,"f":0.0258},{"s":"N","x":0.04,"y":0.0242,"f":0.0242},{"s":"N","x":0.05,"y":0.0229,"f":0.0229},{"s":"N","x":0.06,"y":0.0216,"f":0.0216},{"s":"N","x":0.071,"y":0.0203,"f":0.0203},{"s":"N","x":0.081,"y":0.0189,"f":0.0189},{"s":"N","x":0.092,"y":0.0175,"f":0.0175},{"s":"N","x":0.102,"y":0.0161,"f":0.0161},{"s":"N","x":0.112,"y":0.0147,"f":0.0147},{"s":"N","x":0.123,"y":0.0127,"f":0.0127},{"s":"N","x":0.133,"y":0.0112,"f":0.0112},{"s":"N","x":0.144,"y":0.0098,"f":0.0098},{"s":"N","x":0.154,"y":0.0086,"f":0.0086},{"s":"N","x":0.164,"y":0.0075,"f":0.0075},{"s":"N","x":0.175,"y":0.0064,"f":0.0064},{"s":"N","x":0.185,"y":0.0055,"f":0.0055},{"s":"N","x":0.196,"y":0.0046,"f":0.0046},{"s":"N","x":0.235,"f":0.0035},
{"s":"1","x":-0.525,"f":0.0037},{"s":"1","x":-0.513,"y":0.00413,"f":0.00413},{"s":"1","x":-0.503,"y":0.0044,"f":0.0044},{"s":"1","x":-0.492,"y":0.00472,"f":0.00472},{"s":"1","x":-0.482,"y":0.00505,"f":0.00505},{"s":"1","x":-0.471,"y":0.0054,"f":0.0054},{"s":"1","x":-0.461,"y":0.00575,"f":0.00575},{"s":"1","x":-0.45,"y":0.00611,"f":0.00611},{"s":"1","x":-0.44,"y":0.00648,"f":0.00648},{"s":"1","x":-0.429,"y":0.00685,"f":0.00685},{"s":"1","x":-0.419,"y":0.00732,"f":0.00732},{"s":"1","x":-0.408,"y":0.00783,"f":0.00783},{"s":"1","x":-0.398,"y":0.00828,"f":0.00828},{"s":"1","x":-0.387,"y":0.00875,"f":0.00875},{"s":"1","x":-0.377,"y":0.0093,"f":0.0093},{"s":"1","x":-0.366,"y":0.0099,"f":0.0099},{"s":"1","x":-0.356,"y":0.0106,"f":0.0106},{"s":"1","x":-0.345,"y":0.01133,"f":0.01133},{"s":"1","x":-0.335,"y":0.012,"f":0.012},{"s":"1","x":-0.324,"y":0.0127,"f":0.0127},{"s":"1","x":-0.314,"y":0.0135,"f":0.0135},{"s":"1","x":-0.303,"y":0.0143,"f":0.0143},{"s":"1","x":-0.293,"y":0.0151,"f":0.0151},{"s":"1","x":-0.282,"y":0.0158,"f":0.0158},{"s":"1","x":-0.272,"y":0.0164,"f":0.0164},{"s":"1","x":-0.261,"y":0.0169,"f":0.0169},{"s":"1","x":-0.251,"y":0.0172,"f":0.0172},{"s":"1","x":-0.24,"y":0.0174,"f":0.0174},{"s":"1","x":-0.23,"y":0.0175,"f":0.0175},{"s":"1","x":-0.219,"y":0.0176,"f":0.0176},{"s":"1","x":-0.209,"y":0.0176,"f":0.0176},{"s":"1","x":-0.198,"y":0.0177,"f":0.0177},{"s":"1","x":-0.188,"y":0.0177,"f":0.0177},{"s":"1","x":-0.177,"y":0.0177,"f":0.0177},{"s":"1","x":-0.167,"y":0.0176,"f":0.0176},{"s":"1","x":-0.156,"y":0.0175,"f":0.0175},{"s":"1","x":-0.146,"y":0.0174,"f":0.0174},{"s":"1","x":-0.135,"y":0.0173,"f":0.0173},{"s":"1","x":-0.125,"y":0.0172,"f":0.0172},{"s":"1","x":-0.114,"y":0.0171,"f":0.0171},{"s":"1","x":-0.104,"y":0.0169,"f":0.0169},{"s":"1","x":-0.093,"y":0.0168,"f":0.0168},{"s":"1","x":-0.083,"y":0.0166,"f":0.0166},{"s":"1","x":-0.072,"y":0.0164,"f":0.0164},{"s":"1","x":-0.062,"y":0.0162,"f":0.0162},{"s":"1","x":-0.051,"y":0.016,"f":0.016},{"s":"1","x":-0.041,"y":0.0157,"f":0.0157},{"s":"1","x":-0.03,"y":0.0155,"f":0.0155},{"s":"1","x":-0.02,"y":0.0152,"f":0.0152},{"s":"1","x":-0.009,"y":0.015,"f":0.015},{"s":"1","x":0.001,"y":0.0147,"f":0.0147},{"s":"1","x":0.012,"y":0.0144,"f":0.0144},{"s":"1","x":0.022,"y":0.0141,"f":0.0141},{"s":"1","x":0.033,"y":0.0138,"f":0.0138},{"s":"1","x":0.043,"y":0.0135,"f":0.0135},{"s":"1","x":0.054,"y":0.0132,"f":0.0132},{"s":"1","x":0.064,"y":0.0128,"f":0.0128},{"s":"1","x":0.075,"y":0.0124,"f":0.0124},{"s":"1","x":0.085,"y":0.0117,"f":0.0117},{"s":"1","x":0.096,"y":0.0108,"f":0.0108},{"s":"1","x":0.106,"y":0.0101,"f":0.0101},{"s":"1","x":0.117,"y":0.0096,"f":0.0096},{"s":"1","x":0.127,"y":0.0091,"f":0.0091},{"s":"1","x":0.138,"y":0.0086,"f":0.0086},{"s":"1","x":0.148,"y":0.0081,"f":0.0081},{"s":"1","x":0.159,"y":0.0075,"f":0.0075},{"s":"1","x":0.169,"y":0.0071,"f":0.0071},{"s":"1","x":0.18,"y":0.0066,"f":0.0066},{"s":"1","x":0.19,"y":0.0063,"f":0.0063},{"s":"1","x":0.201,"y":0.006,"f":0.006},{"s":"1","x":0.211,"y":0.0057,"f":0.0057},{"s":"1","x":0.222,"y":0.0054,"f":0.0054},{"s":"1","x":0.232,"y":0.0051,"f":0.0051},{"s":"1","x":0.243,"y":0.0049,"f":0.0049},{"s":"1","x":0.253,"y":0.0047,"f":0.0047},{"s":"1","x":0.264,"y":0.0045,"f":0.0045},{"s":"1","x":0.274,"y":0.0043,"f":0.0043},{"s":"1","x":0.285,"y":0.0041,"f":0.0041},{"s":"1","x":0.3,"f":0.0037},
{"s":"2","x":-0.848,"y":0.00423},{"s":"2","x":-0.833,"y":0.00485},{"s":"2","x":-0.818,"y":0.00548},{"s":"2","x":-0.803,"y":0.00612},{"s":"2","x":-0.788,"y":0.00688},{"s":"2","x":-0.773,"y":0.00755},{"s":"2","x":-0.758,"y":0.0083},{"s":"2","x":-0.743,"y":0.0088},{"s":"2","x":-0.728,"y":0.0093},{"s":"2","x":-0.713,"y":0.0098},{"s":"2","x":-0.698,"y":0.0103},{"s":"2","x":-0.683,"y":0.0109},{"s":"2","x":-0.668,"y":0.0116},{"s":"2","x":-0.653,"y":0.0122},{"s":"2","x":-0.638,"y":0.0128},{"s":"2","x":-0.623,"y":0.0135},{"s":"2","x":-0.608,"y":0.0145},{"s":"2","x":-0.593,"y":0.0155},{"s":"2","x":-0.578,"y":0.0165},{"s":"2","x":-0.563,"y":0.0172},{"s":"2","x":-0.548,"y":0.0181},{"s":"2","x":-0.533,"y":0.019},{"s":"2","x":-0.518,"y":0.0198},{"s":"2","x":-0.503,"y":0.0206},{"s":"2","x":-0.488,"y":0.0216},{"s":"2","x":-0.473,"y":0.0223},{"s":"2","x":-0.458,"y":0.023},{"s":"2","x":-0.443,"y":0.0237},{"s":"2","x":-0.428,"y":0.0245},{"s":"2","x":-0.413,"y":0.025},{"s":"2","x":-0.398,"y":0.0255},{"s":"2","x":-0.383,"y":0.026},{"s":"2","x":-0.368,"y":0.0265},{"s":"2","x":-0.353,"y":0.027},{"s":"2","x":-0.338,"y":0.0275},{"s":"2","x":-0.323,"y":0.0279},{"s":"2","x":-0.308,"y":0.0283},{"s":"2","x":-0.293,"y":0.0287},{"s":"2","x":-0.278,"y":0.029},{"s":"2","x":-0.263,"y":0.0293},{"s":"2","x":-0.248,"y":0.0297},{"s":"2","x":-0.233,"y":0.03},{"s":"2","x":-0.218,"y":0.0303},{"s":"2","x":-0.203,"y":0.0306},{"s":"2","x":-0.188,"y":0.0309},{"s":"2","x":-0.173,"y":0.0312},{"s":"2","x":-0.158,"y":0.0314},{"s":"2","x":-0.143,"y":0.0317},{"s":"2","x":-0.128,"y":0.0319},{"s":"2","x":-0.113,"y":0.032},{"s":"2","x":-0.098,"y":0.0321},{"s":"2","x":-0.083,"y":0.0321},{"s":"2","x":-0.068,"y":0.032},{"s":"2","x":-0.053,"y":0.0318},{"s":"2","x":-0.038,"y":0.0315},{"s":"2","x":-0.023,"y":0.0311},{"s":"2","x":-0.008,"y":0.0306},{"s":"2","x":0.007,"y":0.0302},{"s":"2","x":0.022,"y":0.0297},{"s":"2","x":0.037,"y":0.0291},{"s":"2","x":0.052,"y":0.0286},{"s":"2","x":0.067,"y":0.0279},{"s":"2","x":0.082,"y":0.0273},{"s":"2","x":0.097,"y":0.0267},{"s":"2","x":0.112,"y":0.0261},{"s":"2","x":0.127,"y":0.0255},{"s":"2","x":0.142,"y":0.0249},{"s":"2","x":0.157,"y":0.0243},{"s":"2","x":0.172,"y":0.0237},{"s":"2","x":0.187,"y":0.0232},{"s":"2","x":0.202,"y":0.0226},{"s":"2","x":0.217,"y":0.022},{"s":"2","x":0.232,"y":0.0214},{"s":"2","x":0.247,"y":0.0207},{"s":"2","x":0.262,"y":0.02},{"s":"2","x":0.277,"y":0.019},{"s":"2","x":0.292,"y":0.018},{"s":"2","x":0.307,"y":0.0169},{"s":"2","x":0.322,"y":0.0158},{"s":"2","x":0.337,"y":0.015},{"s":"2","x":0.352,"y":0.0142},{"s":"2","x":0.367,"y":0.0134},{"s":"2","x":0.382,"y":0.0124},{"s":"2","x":0.397,"y":0.0116},{"s":"2","x":0.412,"y":0.011},{"s":"2","x":0.427,"y":0.0104},{"s":"2","x":0.442,"y":0.0101},{"s":"2","x":0.457,"y":0.0099},{"s":"2","x":0.472,"y":0.0098},{"s":"2","x":0.487,"y":0.0097},{"s":"2","x":0.502,"y":0.00968},{"s":"2","x":0.517,"y":0.00968},{"s":"2","x":0.532,"y":0.00968},{"s":"2","x":0.547,"y":0.00966},{"s":"2","x":0.562,"y":0.00964},{"s":"2","x":0.577,"y":0.00961},{"s":"2","x":0.592,"y":0.00945},{"s":"2","x":0.607,"y":0.00915},{"s":"2","x":0.622,"y":0.00875},{"s":"2","x":0.637,"y":0.0083},{"s":"2","x":0.652,"y":0.00785},{"s":"2","x":0.667,"y":0.00735},{"s":"2","x":0.682,"y":0.00695},{"s":"2","x":0.697,"y":0.0065},{"s":"2","x":0.712,"y":0.00613},{"s":"2","x":0.727,"y":0.00585},{"s":"2","x":0.742,"y":0.0055},{"s":"2","x":0.757,"y":0.0052},{"s":"2","x":0.772,"y":0.0049},{"s":"2","x":0.787,"y":0.00455},{"s":"2","x":0.802,"y":0.00415},
{"s":"2","x":-0.93,"f":0.0037},{"s":"2","x":-0.921,"f":0.004},{"s":"2","x":-0.848,"f":0.00547},{"s":"2","x":-0.806,"f":0.0064},{"s":"2","x":-0.764,"f":0.00765},{"s":"2","x":-0.72,"f":0.009},{"s":"2","x":-0.68,"f":0.0104},{"s":"2","x":-0.64,"f":0.0124},{"s":"2","x":-0.6,"f":0.0146},{"s":"2","x":-0.55,"f":0.0177},{"s":"2","x":-0.5,"f":0.0205},{"s":"2","x":-0.45,"f":0.0232},{"s":"2","x":-0.4,"f":0.0255},{"s":"2","x":-0.35,"f":0.0272},{"s":"2","x":-0.3,"f":0.0286},{"s":"2","x":-0.25,"f":0.0299},{"s":"2","x":-0.2,"f":0.0309},{"s":"2","x":-0.15,"f":0.0318},{"s":"2","x":-0.1,"f":0.0322},{"s":"2","x":-0.05,"f":0.0318},{"s":"2","x":0.0,"f":0.0306},{"s":"2","x":0.05,"f":0.0289},{"s":"2","x":0.1,"f":0.027},{"s":"2","x":0.15,"f":0.025},{"s":"2","x":0.2,"f":0.0229},{"s":"2","x":0.25,"f":0.0207},{"s":"2","x":0.3,"f":0.0185},{"s":"2","x":0.33,"f":0.016},{"s":"2","x":0.367,"f":0.013},{"s":"2","x":0.41,"f":0.0115},{"s":"2","x":0.451,"f":0.0102},{"s":"2","x":0.493,"f":0.0089},{"s":"2","x":0.535,"f":0.0077},{"s":"2","x":0.577,"f":0.0066},{"s":"2","x":0.618,"f":0.0057},{"s":"2","x":0.66,"f":0.0049},{"s":"2","x":0.7,"f":0.0042},{"s":"2","x":0.725,"f":0.0038},
{"s":"3","x":-0.87,"f":0.0036},{"s":"3","x":-0.806,"y":0.00455,"f":0.0057},{"s":"3","x":-0.791,"y":0.0057,"f":0.0064},{"s":"3","x":-0.776,"y":0.0072,"f":0.0072},{"s":"3","x":-0.761,"y":0.0086,"f":0.0086},{"s":"3","x":-0.746,"y":0.0103,"f":0.0103},{"s":"3","x":-0.731,"y":0.0117,"f":0.0117},{"s":"3","x":-0.716,"y":0.0127,"f":0.0127},{"s":"3","x":-0.701,"y":0.0137,"f":0.0137},{"s":"3","x":-0.686,"y":0.0151,"f":0.0151},{"s":"3","x":-0.671,"y":0.0167,"f":0.0167},{"s":"3","x":-0.656,"y":0.0178,"f":0.0178},{"s":"3","x":-0.641,"y":0.0196,"f":0.0196},{"s":"3","x":-0.626,"y":0.0211,"f":0.0211},{"s":"3","x":-0.611,"y":0.0227,"f":0.0227},{"s":"3","x":-0.596,"y":0.0241,"f":0.0241},{"s":"3","x":-0.581,"y":0.0256,"f":0.0256},{"s":"3","x":-0.566,"y":0.027,"f":0.027},{"s":"3","x":-0.551,"y":0.0284,"f":0.0284},{"s":"3","x":-0.536,"y":0.0299,"f":0.0299},{"s":"3","x":-0.521,"y":0.0311,"f":0.0311},{"s":"3","x":-0.506,"y":0.0324,"f":0.0324},{"s":"3","x":-0.491,"y":0.0333,"f":0.0333},{"s":"3","x":-0.476,"y":0.0341,"f":0.0341},{"s":"3","x":-0.461,"y":0.0347,"f":0.0347},{"s":"3","x":-0.446,"y":0.0352,"f":0.0352},{"s":"3","x":-0.431,"y":0.0356,"f":0.0356},{"s":"3","x":-0.416,"y":0.0359,"f":0.0359},{"s":"3","x":-0.401,"y":0.036,"f":0.036},{"s":"3","x":-0.386,"y":0.0361,"f":0.0361},{"s":"3","x":-0.371,"y":0.036,"f":0.036},{"s":"3","x":-0.356,"y":0.0358,"f":0.0358},{"s":"3","x":-0.341,"y":0.0355,"f":0.0355},{"s":"3","x":-0.326,"y":0.0351,"f":0.0351},{"s":"3","x":-0.311,"y":0.0345,"f":0.0345},{"s":"3","x":-0.296,"y":0.0339,"f":0.0339},{"s":"3","x":-0.281,"y":0.0333,"f":0.0333},{"s":"3","x":-0.266,"y":0.0326,"f":0.0326},{"s":"3","x":-0.251,"y":0.0318,"f":0.0318},{"s":"3","x":-0.236,"y":0.0311,"f":0.0311},{"s":"3","x":-0.221,"y":0.0303,"f":0.0303},{"s":"3","x":-0.206,"y":0.0296,"f":0.0296},{"s":"3","x":-0.191,"y":0.0289,"f":0.0289},{"s":"3","x":-0.176,"y":0.0281,"f":0.0281},{"s":"3","x":-0.161,"y":0.0271,"f":0.0271},{"s":"3","x":-0.146,"y":0.026,"f":0.026},{"s":"3","x":-0.131,"y":0.0249,"f":0.0249},{"s":"3","x":-0.116,"y":0.0236,"f":0.0236},{"s":"3","x":-0.101,"y":0.0225,"f":0.0225},{"s":"3","x":-0.086,"y":0.0213,"f":0.0213},{"s":"3","x":-0.071,"y":0.0199,"f":0.0199},{"s":"3","x":-0.056,"y":0.0186,"f":0.0186},{"s":"3","x":-0.041,"y":0.0174,"f":0.0174},{"s":"3","x":-0.026,"y":0.0164,"f":0.0164},{"s":"3","x":-0.011,"y":0.0153,"f":0.0153},{"s":"3","x":0.004,"y":0.0143,"f":0.0143},{"s":"3","x":0.019,"y":0.0135,"f":0.0135},{"s":"3","x":0.034,"y":0.013,"f":0.013},{"s":"3","x":0.049,"y":0.0125,"f":0.0125},{"s":"3","x":0.064,"y":0.012,"f":0.012},{"s":"3","x":0.079,"y":0.0112,"f":0.0112},{"s":"3","x":0.094,"y":0.0107,"f":0.0107},{"s":"3","x":0.109,"y":0.0105,"f":0.0105},{"s":"3","x":0.124,"y":0.01037,"f":0.01037},{"s":"3","x":0.139,"y":0.01033,"f":0.01033},{"s":"3","x":0.154,"y":0.01032,"f":0.01032},{"s":"3","x":0.169,"y":0.01034,"f":0.01034},{"s":"3","x":0.184,"y":0.01038,"f":0.01038},{"s":"3","x":0.199,"y":0.01043,"f":0.01043},{"s":"3","x":0.214,"y":0.0105,"f":0.0105},{"s":"3","x":0.229,"y":0.01057,"f":0.01057},{"s":"3","x":0.244,"y":0.01062,"f":0.01062},{"s":"3","x":0.259,"y":0.0107,"f":0.0107},{"s":"3","x":0.274,"y":0.0108,"f":0.0108},{"s":"3","x":0.289,"y":0.011,"f":0.011},{"s":"3","x":0.304,"y":0.0111,"f":0.0111},{"s":"3","x":0.319,"y":0.0112,"f":0.0112},{"s":"3","x":0.334,"y":0.01135,"f":0.01135},{"s":"3","x":0.349,"y":0.01143,"f":0.01143},{"s":"3","x":0.364,"y":0.0115,"f":0.0115},{"s":"3","x":0.379,"y":0.01153,"f":0.01153},{"s":"3","x":0.394,"y":0.01155,"f":0.01155},{"s":"3","x":0.409,"y":0.01153,"f":0.01153},{"s":"3","x":0.424,"y":0.01148,"f":0.01148},{"s":"3","x":0.439,"y":0.0114,"f":0.0114},{"s":"3","x":0.454,"y":0.0113,"f":0.0113},{"s":"3","x":0.469,"y":0.01115,"f":0.01115},{"s":"3","x":0.484,"y":0.01103,"f":0.01103},{"s":"3","x":0.499,"y":0.0109,"f":0.0109},{"s":"3","x":0.514,"y":0.01075,"f":0.01075},{"s":"3","x":0.529,"y":0.01058,"f":0.01058},{"s":"3","x":0.544,"y":0.0104,"f":0.0104},{"s":"3","x":0.559,"y":0.01022,"f":0.01022},{"s":"3","x":0.574,"y":0.01003,"f":0.01003},{"s":"3","x":0.589,"y":0.0098,"f":0.0098},{"s":"3","x":0.604,"y":0.0096,"f":0.0096},{"s":"3","x":0.619,"y":0.00933,"f":0.00933},{"s":"3","x":0.634,"y":0.00905,"f":0.00905},{"s":"3","x":0.649,"y":0.00875,"f":0.00875},{"s":"3","x":0.664,"y":0.00845,"f":0.00845},{"s":"3","x":0.679,"y":0.0081,"f":0.0081},{"s":"3","x":0.694,"y":0.0078,"f":0.0078},{"s":"3","x":0.709,"y":0.00752,"f":0.00752},{"s":"3","x":0.724,"y":0.0072,"f":0.0072},{"s":"3","x":0.739,"y":0.0069,"f":0.0069},{"s":"3","x":0.754,"y":0.00665,"f":0.00665},{"s":"3","x":0.769,"y":0.0064,"f":0.0064},{"s":"3","x":0.784,"y":0.00614,"f":0.006},{"s":"3","x":0.799,"y":0.0059,"f":0.0057},{"s":"3","x":0.814,"y":0.00565,"f":0.0053},{"s":"3","x":0.829,"y":0.0054,"f":0.0049},{"s":"3","x":0.844,"y":0.0051,"f":0.0045},{"s":"3","x":0.859,"y":0.00478,"f":0.0041},{"s":"3","x":0.872,"f":0.0037},{"s":"3","x":0.874,"y":0.00447},{"s":"3","x":0.889,"y":0.0042}
]
},
"hconcat":[
{"width":350,"height":581,"data":{"name":"a"},
"layer":[
{"transform":[{"filter":"isValid(datum.y)"}],"mark":{"type":"circle","size":30,"opacity":1,"clip":true},
"encoding":{"x":{"field":"x","type":"quantitative","scale":{"domain":[-2,3],"nice":false,"zero":false},"axis":{"values":[-2,-1,0,1,2,3],"format":"d","title":null}},
"y":{"field":"y","type":"quantitative","scale":{"type":"log","domain":[0.004,5],"nice":false},"axis":{"values":[0.01,0.1,1],"labelExpr":"datum.value > 0.5 ? '10⁰' : datum.value > 0.05 ? '10⁻¹' : '10⁻²'","title":"Flux (Jy/beam)"}},
"color":{"field":"s","type":"nominal","scale":{"domain":["N","1","2","3"],"range":["#1b9e77","#7570b3","#e6ab02","#666666"]},"legend":null}}},
{"transform":[{"filter":"isValid(datum.f)"}],"mark":{"type":"line","strokeWidth":1.3,"clip":true},
"encoding":{"x":{"field":"x","type":"quantitative","scale":{"domain":[-2,3],"nice":false,"zero":false},"axis":{"values":[-2,-1,0,1,2,3],"format":"d","title":null}},
"y":{"field":"f","type":"quantitative","scale":{"type":"log","domain":[0.004,5],"nice":false},"axis":{"values":[0.01,0.1,1],"labelExpr":"datum.value > 0.5 ? '10⁰' : datum.value > 0.05 ? '10⁻¹' : '10⁻²'","title":"Flux (Jy/beam)"}},
"color":{"field":"s","type":"nominal","scale":{"domain":["N","1","2","3"],"range":["#1b9e77","#7570b3","#e6ab02","#666666"]},"legend":null}}},
{"data":{"values":[{"t":"15 GHz","x":-1.83,"y":2.9}]},"mark":{"type":"text","align":"left","baseline":"alphabetic","fontSize":26,"color":"#262626"},
"encoding":{"x":{"field":"x","type":"quantitative","scale":{"domain":[-2,3],"nice":false,"zero":false},"axis":{"values":[-2,-1,0,1,2,3],"format":"d","title":null}},
"y":{"field":"y","type":"quantitative","scale":{"type":"log","domain":[0.004,5],"nice":false},"axis":{"values":[0.01,0.1,1],"labelExpr":"datum.value > 0.5 ? '10⁰' : datum.value > 0.05 ? '10⁻¹' : '10⁻²'","title":"Flux (Jy/beam)"}},
"text":{"field":"t"}}}
]},
{"width":350,"height":581,"data":{"name":"b"},
"layer":[
{"transform":[{"filter":"isValid(datum.y)"}],"mark":{"type":"circle","size":30,"opacity":1,"clip":true},
"encoding":{"x":{"field":"x","type":"quantitative","scale":{"domain":[-2,2],"nice":false,"zero":false},"axis":{"values":[-2,-1,0,1,2],"format":"d","title":"Width (mas)"}},
"y":{"field":"y","type":"quantitative","scale":{"type":"log","domain":[0.004,0.8],"nice":false},"axis":{"values":[0.01,0.1],"labelExpr":"datum.value > 0.05 ? '10⁻¹' : '10⁻²'","title":null}},
"color":{"field":"s","type":"nominal","scale":{"domain":["N","1","2","3"],"range":["#1b9e77","#7570b3","#e6ab02","#666666"]},"legend":null}}},
{"transform":[{"filter":"isValid(datum.f)"}],"mark":{"type":"line","strokeWidth":1.3,"clip":true},
"encoding":{"x":{"field":"x","type":"quantitative","scale":{"domain":[-2,2],"nice":false,"zero":false},"axis":{"values":[-2,-1,0,1,2],"format":"d","title":"Width (mas)"}},
"y":{"field":"f","type":"quantitative","scale":{"type":"log","domain":[0.004,0.8],"nice":false},"axis":{"values":[0.01,0.1],"labelExpr":"datum.value > 0.05 ? '10⁻¹' : '10⁻²'","title":null}},
"color":{"field":"s","type":"nominal","scale":{"domain":["N","1","2","3"],"range":["#1b9e77","#7570b3","#e6ab02","#666666"]},"legend":null}}},
{"data":{"values":[{"t":"43 GHz","x":-1.806,"y":0.5356}]},"mark":{"type":"text","align":"left","baseline":"alphabetic","fontSize":26,"color":"#262626"},
"encoding":{"x":{"field":"x","type":"quantitative","scale":{"domain":[-2,2],"nice":false,"zero":false},"axis":{"values":[-2,-1,0,1,2],"format":"d","title":"Width (mas)"}},
"y":{"field":"y","type":"quantitative","scale":{"type":"log","domain":[0.004,0.8],"nice":false},"axis":{"values":[0.01,0.1],"labelExpr":"datum.value > 0.05 ? '10⁻¹' : '10⁻²'","title":null}},
"text":{"field":"t"}}}
]},
{"width":350,"height":581,"data":{"name":"c"},
"layer":[
{"transform":[{"filter":"isValid(datum.y)"}],"mark":{"type":"circle","size":30,"opacity":1,"clip":true},
"encoding":{"x":{"field":"x","type":"quantitative","scale":{"domain":[-1.2,1.0],"nice":false,"zero":false},"axis":{"values":[-1,-0.5,0,0.5,1],"format":".1f","title":null}},
"y":{"field":"y","type":"quantitative","scale":{"type":"log","domain":[0.004,0.2],"nice":false},"axis":{"values":[0.01,0.1],"labelExpr":"datum.value > 0.05 ? '10⁻¹' : '10⁻²'","title":null}},
"color":{"field":"s","type":"nominal","scale":{"domain":["N","1","2","3"],"range":["#1b9e77","#7570b3","#e6ab02","#666666"]},
"legend":{"title":" ","titleFontSize":2,"titlePadding":8,"orient":"top-right","offset":9,"padding":10,"labelExpr":"datum.value == 'N' ? ['Nuclear', 'region'] : datum.value + ' mas'","symbolType":"circle","symbolSize":18,"labelFontSize":18,"labelColor":"#262626","strokeColor":"#cccccc","fillColor":"white","cornerRadius":4,"rowPadding":10,"labelOffset":29,"symbolOffset":7,"encoding":{"labels":{"dy":{"value":{"expr":"datum.value == 'N' ? -10 : 0"}}}}}}}},
{"transform":[{"filter":"isValid(datum.f)"}],"mark":{"type":"line","strokeWidth":1.3,"clip":true},
"encoding":{"x":{"field":"x","type":"quantitative","scale":{"domain":[-1.2,1.0],"nice":false,"zero":false},"axis":{"values":[-1,-0.5,0,0.5,1],"format":".1f","title":null}},
"y":{"field":"f","type":"quantitative","scale":{"type":"log","domain":[0.004,0.2],"nice":false},"axis":{"values":[0.01,0.1],"labelExpr":"datum.value > 0.05 ? '10⁻¹' : '10⁻²'","title":null}},
"color":{"field":"s","type":"nominal","scale":{"domain":["N","1","2","3"],"range":["#1b9e77","#7570b3","#e6ab02","#666666"]},"legend":null}}},
{"data":{"values":[{"t":"86 GHz","x":-1.106,"y":0.1487}]},"mark":{"type":"text","align":"left","baseline":"alphabetic","fontSize":26,"color":"#262626"},
"encoding":{"x":{"field":"x","type":"quantitative","scale":{"domain":[-1.2,1.0],"nice":false,"zero":false},"axis":{"values":[-1,-0.5,0,0.5,1],"format":".1f","title":null}},
"y":{"field":"y","type":"quantitative","scale":{"type":"log","domain":[0.004,0.2],"nice":false},"axis":{"values":[0.01,0.1],"labelExpr":"datum.value > 0.05 ? '10⁻¹' : '10⁻²'","title":null}},
"text":{"field":"t"}}}
]}
]
}
